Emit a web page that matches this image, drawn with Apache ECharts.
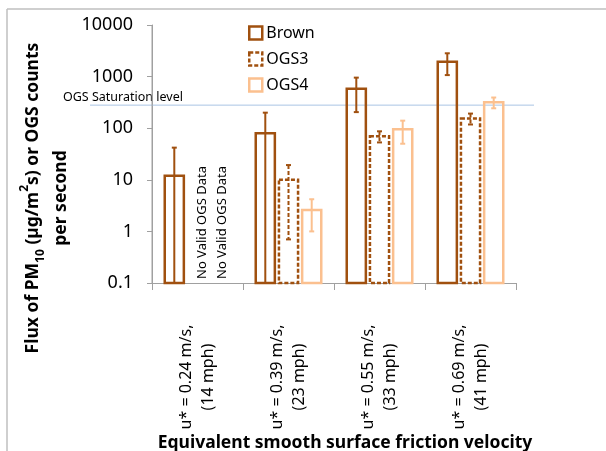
<!DOCTYPE html>
<html>
<head>
<meta charset="utf-8">
<script src="https://cdn.jsdelivr.net/npm/echarts@6/dist/echarts.min.js"></script>
<style>
  html, body { margin: 0; padding: 0; background: #fff; }
  #chart { width: 606px; height: 451px; }
</style>
</head>
<body>
<div id="chart"></div>
<script>
// Friction velocity categories (two-line axis labels)
const categories = [
  'u* = 0.24 m/s,\n(14 mph)',
  'u* = 0.39 m/s,\n(23 mph)',
  'u* = 0.55 m/s,\n(33 mph)',
  'u* = 0.69 m/s,\n(41 mph)'
];

// PM10 flux from the Brown sampler and OGS counts (null = no valid data)
const brownValues = [12, 80, 580, 1950];
const brownErrors = [30, 120, 375, 880];
const ogs3Values = [null, 10, 70, 155];
const ogs3Errors = [null, 9.3, 17, 37];
const ogs4Values = [null, 2.6, 95, 318];
const ogs4Errors = [null, 1.6, 45, 75];

// Log axis range and ticks
const yTicks = [0.1, 1, 10, 100, 1000, 10000];
const yMin = yTicks[0];
const yMax = yTicks[yTicks.length - 1];

// OGS detector saturation
const saturationLevel = 280;
const saturationText = 'OGS Saturation level';
const noDataText = 'No Valid OGS Data';

const BROWN = '#A0500F';
const LIGHT = '#FBC08F';
const AXIS = '#A0A0A0';
const FONT = 'Noto Sans';

function toData(values, errors) {
  const out = [];
  values.forEach((v, i) => {
    if (v != null) out.push([i, v, errors[i]]);
  });
  return out;
}

// Draws one hollow bar with its error bar; slot 0..2 within each category
function makeRenderer(slot, color, dashed) {
  return function (params, api) {
    const ci = api.value(0);
    const v = api.value(1);
    const e = api.value(2);
    const band = api.size([1, 1])[0];
    const bw = band * 0.21;
    const gap = band * 0.045;
    const cx = api.coord([ci, v])[0] + (slot - 1) * (bw + gap);
    const top = api.coord([ci, v])[1];
    const base = api.coord([ci, yMin])[1];
    const hi = api.coord([ci, v + e])[1];
    const lowVal = v - e;
    const lo = lowVal > yMin ? api.coord([ci, lowVal])[1] : base;
    const dash = dashed ? [4, 2] : null;
    const children = [
      {
        type: 'rect',
        shape: { x: cx - bw / 2, y: top, width: bw, height: base - top },
        style: { fill: 'none', stroke: color, lineWidth: 2.5, lineDash: dash }
      },
      {
        type: 'line',
        shape: { x1: cx, y1: hi, x2: cx, y2: lo },
        style: { stroke: color, lineWidth: 2, lineDash: dash }
      },
      {
        type: 'line',
        shape: { x1: cx - 2.5, y1: hi, x2: cx + 2.5, y2: hi },
        style: { stroke: color, lineWidth: 2 }
      }
    ];
    if (lowVal > yMin) {
      children.push({
        type: 'line',
        shape: { x1: cx - 2.5, y1: lo, x2: cx + 2.5, y2: lo },
        style: { stroke: color, lineWidth: 2 }
      });
    }
    return { type: 'group', children: children };
  };
}

const chart = echarts.init(document.getElementById('chart'), null, { renderer: 'canvas' });

const option = {
  animation: false,
  backgroundColor: '#fff',
  grid: { left: 152, right: 90, top: 25, bottom: 168, containLabel: false },
  legend: {
    orient: 'vertical',
    left: 243,
    top: 20,
    itemWidth: 13,
    itemHeight: 13,
    itemGap: 10,
    textStyle: { fontFamily: FONT, fontSize: 16, color: '#000', padding: [0, 0, 0, -1] },
    data: [
      { name: 'Brown', icon: 'rect', itemStyle: { color: 'rgba(0,0,0,0)', borderColor: BROWN, borderWidth: 2.5 } },
      { name: 'OGS3', icon: 'rect', itemStyle: { color: 'rgba(0,0,0,0)', borderColor: BROWN, borderWidth: 2.5, borderType: [4, 2] } },
      { name: 'OGS4', icon: 'rect', itemStyle: { color: 'rgba(0,0,0,0)', borderColor: LIGHT, borderWidth: 2.5 } }
    ]
  },
  xAxis: {
    type: 'category',
    data: categories,
    axisLine: { show: true, onZero: false, lineStyle: { color: AXIS, width: 1 } },
    axisTick: { show: true, length: 7, lineStyle: { color: AXIS } },
    axisLabel: {
      rotate: 90,
      align: 'center',
      verticalAlign: 'middle',
      margin: 94,
      fontFamily: FONT,
      fontSize: 16,
      color: '#000',
      lineHeight: 22
    }
  },
  yAxis: {
    type: 'log',
    logBase: 10,
    min: yMin,
    max: yMax,
    axisLine: { show: true, onZero: false, lineStyle: { color: AXIS, width: 1 } },
    axisTick: { show: true, length: 5, lineStyle: { color: AXIS } },
    splitLine: { show: false },
    axisLabel: {
      margin: 19,
      fontFamily: FONT,
      fontSize: 18,
      color: '#000',
      formatter: function (v) { return String(+v.toPrecision(6)); }
    }
  },
  series: [
    { name: 'Brown', type: 'custom', renderItem: makeRenderer(0, BROWN, false),
      itemStyle: { color: BROWN }, data: toData(brownValues, brownErrors), z: 3 },
    { name: 'OGS3', type: 'custom', renderItem: makeRenderer(1, BROWN, true),
      itemStyle: { color: BROWN }, data: toData(ogs3Values, ogs3Errors), z: 3 },
    { name: 'OGS4', type: 'custom', renderItem: makeRenderer(2, LIGHT, false),
      itemStyle: { color: LIGHT }, data: toData(ogs4Values, ogs4Errors), z: 3 }
  ]
};

chart.setOption(option);

// Annotations placed from the axis scales
const satY = chart.convertToPixel({ yAxisIndex: 0 }, saturationLevel);
const cat0X = chart.convertToPixel({ xAxisIndex: 0 }, 0);
const baseY = chart.convertToPixel({ yAxisIndex: 0 }, yMin);
const topY = chart.convertToPixel({ yAxisIndex: 0 }, yMax);
const axisX = cat0X - (chart.convertToPixel({ xAxisIndex: 0 }, 1) - cat0X) / 2;

chart.setOption({
  graphic: [
    // outer frame edges
    { type: 'line', shape: { x1: 7, y1: 9, x2: 606, y2: 9 }, style: { stroke: '#BFBFBF', lineWidth: 1.5 }, silent: true },
    { type: 'line', shape: { x1: 7, y1: 9, x2: 7, y2: 451 }, style: { stroke: '#BFBFBF', lineWidth: 1.5 }, silent: true },
    // value axis line
    { type: 'line', shape: { x1: axisX, y1: topY, x2: axisX, y2: baseY }, style: { stroke: AXIS, lineWidth: 1 }, z: 2 },
    // saturation reference line and label
    { type: 'line', shape: { x1: 90, y1: satY, x2: 534, y2: satY }, style: { stroke: '#A9C4E4', lineWidth: 1 }, z: 1 },
    { type: 'text', x: 63, y: satY - 1,
      style: { text: saturationText, fontFamily: FONT, fontSize: 12.5, fill: '#000', textAlign: 'left', textVerticalAlign: 'bottom' } },
    // "no data" notes in the empty OGS slots of the first category
    { type: 'text', x: cat0X + 5, y: baseY - 4, rotation: Math.PI / 2,
      style: { text: noDataText, fontFamily: FONT, fontSize: 13, fill: '#000', textAlign: 'left', textVerticalAlign: 'middle' } },
    { type: 'text', x: cat0X + 25, y: baseY - 4, rotation: Math.PI / 2,
      style: { text: noDataText, fontFamily: FONT, fontSize: 13, fill: '#000', textAlign: 'left', textVerticalAlign: 'middle' } },
    // axis titles
    { type: 'text', x: 345, y: 443,
      style: { text: 'Equivalent smooth surface friction velocity', fontFamily: FONT, fontWeight: 'bold', fontSize: 17.5,
               fill: '#000', textAlign: 'center', textVerticalAlign: 'middle' } },
    { type: 'text', x: 47, y: 198, rotation: Math.PI / 2,
      style: {
        text: '{b|Flux of PM}{s|10}{b| (µg/m}{p|2}{b|s) or OGS counts}\n{b|per second}',
        textAlign: 'center', textVerticalAlign: 'middle', fill: '#000',
        rich: {
          b: { fontFamily: FONT, fontWeight: 'bold', fontSize: 17.5, lineHeight: 28, fill: '#000' },
          s: { fontFamily: FONT, fontWeight: 'bold', fontSize: 12, lineHeight: 16, fill: '#000', verticalAlign: 'bottom' },
          p: { fontFamily: FONT, fontWeight: 'bold', fontSize: 12, lineHeight: 20, fill: '#000', verticalAlign: 'top' }
        }
      } }
  ]
});
</script>
</body>
</html>
